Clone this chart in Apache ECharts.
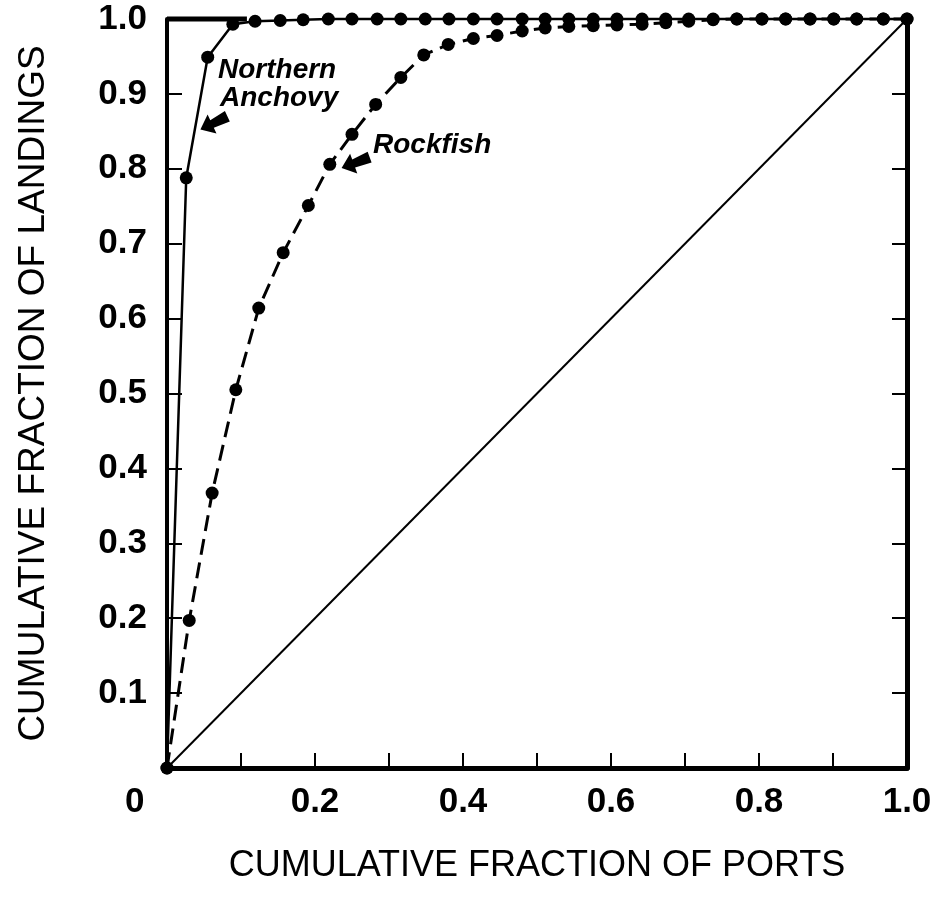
<!DOCTYPE html>
<html>
<head>
<meta charset="utf-8">
<script src="https://cdn.jsdelivr.net/npm/echarts@6/dist/echarts.min.js"></script>
<style>html,body{margin:0;padding:0;background:#fff}#c{width:943px;height:905px}</style>
</head>
<body>
<div id="c"></div>
<script>
// Cumulative fraction of ports (x) and landings (y)
const anchovyPorts = [0, 0.026, 0.055, 0.089, 0.119, 0.153, 0.184, 0.218, 0.250, 0.284, 0.316, 0.349, 0.381, 0.414, 0.446, 0.480, 0.511, 0.543, 0.576, 0.608, 0.642, 0.674, 0.705, 0.738, 0.770, 0.804, 0.836, 0.869, 0.901, 0.932, 0.968, 1.0];
const anchovyLandings = [0, 0.788, 0.949, 0.993, 0.997, 0.998, 0.999, 1, 1, 1, 1, 1, 1, 1, 1, 1, 1, 1, 1, 1, 1, 1, 1, 1, 1, 1, 1, 1, 1, 1, 1, 1];
const rockfishPorts = [0, 0.030, 0.061, 0.093, 0.124, 0.157, 0.191, 0.220, 0.250, 0.282, 0.316, 0.347, 0.380, 0.414, 0.446, 0.480, 0.511, 0.543, 0.576, 0.608, 0.642, 0.674, 0.705, 0.738, 0.770, 0.804, 0.836, 0.869, 0.901, 0.932, 0.968, 1.0];
const rockfishLandings = [0, 0.197, 0.367, 0.505, 0.614, 0.688, 0.751, 0.806, 0.846, 0.886, 0.922, 0.952, 0.966, 0.974, 0.978, 0.984, 0.988, 0.990, 0.991, 0.992, 0.993, 0.995, 0.997, 0.999, 1, 1, 1, 1, 1, 1, 1, 1];
const equalityX = [0, 1];
const equalityY = [0, 1];
const frameTopX = [0, 0.108];
const frameTopY = [1, 1];
const xTickLabels = ['0.2', '0.4', '0.6', '0.8', '1.0'];
const yTickLabels = ['0.1', '0.2', '0.3', '0.4', '0.5', '0.6', '0.7', '0.8', '0.9', '1.0'];
const xTitle = 'CUMULATIVE FRACTION OF PORTS';
const yTitle = 'CUMULATIVE FRACTION OF LANDINGS';
const anchovyArrowAt = [0.0635, 0.861];
const rockfishArrowAt = [0.255, 0.808];

const zip = (a, b) => a.map((v, i) => [v, b[i]]);
const FONT = "'Liberation Sans', Arial, Helvetica, sans-serif";
const arrowPath = 'path://M0,10 L12,0 L12,6 L28,4 L28,15 L12,14 L12,20 Z';

const chart = echarts.init(document.getElementById('c'), null, {renderer: 'canvas'});
const fmtX = v => { const s = v.toFixed(1); return (v > 0 && xTickLabels.indexOf(s) >= 0) ? s : ''; };
const fmtY = v => { const s = v.toFixed(1); return yTickLabels.indexOf(s) >= 0 ? s : ''; };

chart.setOption({
  animation: false,
  backgroundColor: '#fff',
  grid: {left: 167, right: 36, top: 19, bottom: 137},
  xAxis: {
    type: 'value', min: 0, max: 1, interval: 0.1,
    axisLine: {show: true, lineStyle: {color: '#000', width: 5}},
    axisTick: {show: true, inside: true, length: 15, lineStyle: {color: '#000', width: 2}},
    axisLabel: {formatter: fmtX, color: '#000', fontSize: 35, fontWeight: 'bold', fontFamily: FONT, margin: 17, showMinLabel: true, showMaxLabel: true},
    splitLine: {show: false},
    name: xTitle, nameLocation: 'middle', nameGap: 80,
    nameTextStyle: {color: '#000', fontSize: 36, fontFamily: FONT}
  },
  yAxis: [{
    type: 'value', min: 0, max: 1, interval: 0.1, position: 'left', offset: 5,
    axisLine: {show: true, lineStyle: {color: '#000', width: 4}},
    axisTick: {show: true, inside: true, length: 15, lineStyle: {color: '#000', width: 2}},
    axisLabel: {formatter: fmtY, color: '#000', fontSize: 35, fontWeight: 'bold', fontFamily: FONT, margin: 15},
    splitLine: {show: false},
    name: yTitle, nameLocation: 'middle', nameGap: 110, nameRotate: 90,
    nameTextStyle: {color: '#000', fontSize: 37, fontFamily: FONT}
  }, {
    type: 'value', min: 0, max: 1, interval: 0.1, position: 'right',
    axisLine: {show: true, lineStyle: {color: '#000', width: 5}},
    axisTick: {show: true, inside: true, length: 15, lineStyle: {color: '#000', width: 2}},
    axisLabel: {show: false},
    splitLine: {show: false}
  }],
  graphic: [
    {type: 'text', left: 125, top: 785, style: {text: '0', font: "bold 35px " + FONT, fill: '#000'}},
    {type: 'text', left: 218, top: 56, style: {text: 'Northern', font: "italic bold 28px " + FONT, fill: '#000'}},
    {type: 'text', left: 220, top: 84, style: {text: 'Anchovy', font: "italic bold 28px " + FONT, fill: '#000'}},
    {type: 'text', left: 373, top: 131, style: {text: 'Rockfish', font: "italic bold 28px " + FONT, fill: '#000'}}
  ],
  series: [
    {
      name: 'Equality', type: 'line', data: zip(equalityX, equalityY), showSymbol: false, symbol: 'none',
      lineStyle: {color: '#000', width: 2}, silent: true, z: 1
    },
    {
      name: 'Frame', type: 'line', data: zip(frameTopX, frameTopY), showSymbol: false, symbol: 'none',
      lineStyle: {color: '#000', width: 5}, silent: true, clip: false, z: 2
    },
    {
      name: 'Rockfish', type: 'line', data: zip(rockfishPorts, rockfishLandings),
      symbol: 'circle', symbolSize: 13, showAllSymbol: true,
      itemStyle: {color: '#000'},
      lineStyle: {color: '#000', width: 3, type: [16, 8]}, clip: false, z: 3,
      markPoint: {
        symbol: arrowPath, symbolSize: [30, 21], symbolRotate: 20, silent: true,
        itemStyle: {color: '#000'}, label: {show: false},
        data: [{coord: rockfishArrowAt}]
      }
    },
    {
      name: 'Northern Anchovy', type: 'line', data: zip(anchovyPorts, anchovyLandings),
      symbol: 'circle', symbolSize: 13, showAllSymbol: true,
      itemStyle: {color: '#000'},
      lineStyle: {color: '#000', width: 2.5}, clip: false, z: 4,
      markPoint: {
        symbol: arrowPath, symbolSize: [30, 21], symbolRotate: 25, silent: true,
        itemStyle: {color: '#000'}, label: {show: false},
        data: [{coord: anchovyArrowAt}]
      }
    }
  ]
});
</script>
</body>
</html>
